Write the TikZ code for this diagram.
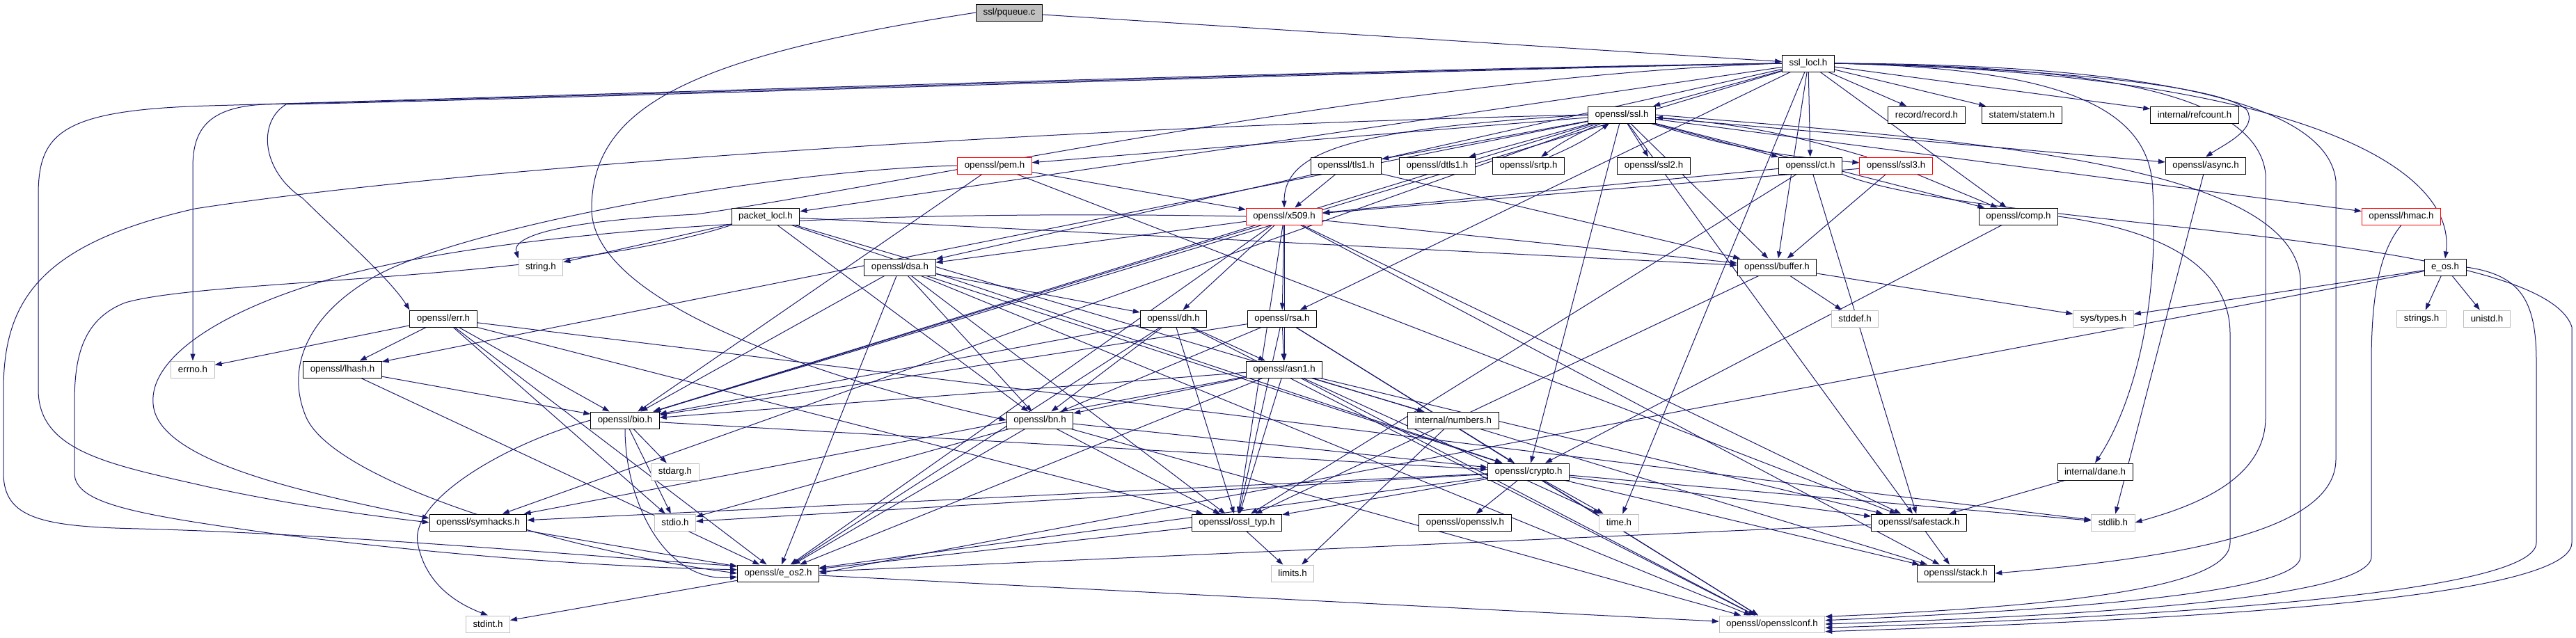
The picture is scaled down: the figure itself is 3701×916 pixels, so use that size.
\documentclass[tikz,border=0pt]{standalone}
\usepackage{fontspec}
\setmainfont{Liberation Sans}
\usetikzlibrary{arrows.meta,backgrounds}
\definecolor{incEdge}{HTML}{191970}
\definecolor{incGray}{HTML}{BFBFBF}
\definecolor{incRed}{HTML}{FF0000}
\tikzset{
  inc-box/.style={
    draw=black, line width=1pt, fill=white, rectangle,
    font=\fontsize{13.3}{16}\selectfont, text=black,
    inner xsep=10pt, inner ysep=0pt, minimum height=24pt
  },
  inc-sys/.style={inc-box, draw=incGray},
  inc-red/.style={inc-box, draw=incRed},
  inc-root/.style={inc-box, fill=incGray},
  inc-edge/.style={-{Triangle[length=10pt,width=7pt]}, line width=1pt,
    draw=incEdge}
}

\begin{document}
\begin{tikzpicture}[x=1pt, y=-1pt, every edge/.append style={inc-edge}]
\useasboundingbox (0,0) rectangle (3701,916);

% rows of headers, top to bottom
\node[inc-root] (pqueue) at (1450,18) {ssl/pqueue.c};
\node[inc-box] (ssllocl) at (2598,91) {ssl\_locl.h};

\node[inc-box] (ssl) at (2330,165) {openssl/ssl.h};
\node[inc-box] (record) at (2768,165) {record/record.h};
\node[inc-box] (statem) at (2905,165) {statem/statem.h};
\node[inc-box] (refcount) at (3153,165) {internal/refcount.h};

\node[inc-red] (pem) at (1429,238) {openssl/pem.h};
\node[inc-box] (tls1) at (1934,238) {openssl/tls1.h};
\node[inc-box] (dtls1) at (2065,238) {openssl/dtls1.h};
\node[inc-box] (srtp) at (2196,238) {openssl/srtp.h};
\node[inc-box] (ssl2) at (2376,238) {openssl/ssl2.h};
\node[inc-box] (ct) at (2601,238) {openssl/ct.h};
\node[inc-red] (ssl3) at (2724,238) {openssl/ssl3.h};
\node[inc-box] (async) at (3169,238) {openssl/async.h};

\node[inc-box] (packet) at (1100,311) {packet\_locl.h};
\node[inc-red] (x509) at (1845,311) {openssl/x509.h};
\node[inc-box] (comp) at (2900,311) {openssl/comp.h};
\node[inc-red] (hmac) at (3450,311) {openssl/hmac.h};

\node[inc-sys] (string) at (777,384) {string.h};
\node[inc-box] (dsa) at (1293,384) {openssl/dsa.h};
\node[inc-box] (buffer) at (2553,384) {openssl/buffer.h};
\node[inc-box] (eos) at (3513,384) {e\_os.h};

\node[inc-box] (err) at (637,458) {openssl/err.h};
\node[inc-box] (dh) at (1686,458) {openssl/dh.h};
\node[inc-box] (rsa) at (1842,458) {openssl/rsa.h};
\node[inc-sys] (stddef) at (2665,458) {stddef.h};
\node[inc-sys] (systypes) at (3022,458) {sys/types.h};
\node[inc-sys] (strings) at (3479,458) {strings.h};
\node[inc-sys] (unistd) at (3573,458) {unistd.h};

\node[inc-sys] (errno) at (277,531) {errno.h};
\node[inc-box] (lhash) at (492,531) {openssl/lhash.h};
\node[inc-box] (asn1) at (1845,531) {openssl/asn1.h};

\node[inc-box] (bio) at (898,604) {openssl/bio.h};
\node[inc-box] (bn) at (1494,604) {openssl/bn.h};
\node[inc-box] (numbers) at (2088,604) {internal/numbers.h};

\node[inc-sys] (stdarg) at (970,678) {stdarg.h};
\node[inc-box] (crypto) at (2196,678) {openssl/crypto.h};
\node[inc-box] (dane) at (3010,678) {internal/dane.h};

\node[inc-box] (symhacks) at (687,751) {openssl/symhacks.h};
\node[inc-sys] (stdio) at (970,751) {stdio.h};
\node[inc-box] (ossltyp) at (1777,751) {openssl/ossl\_typ.h};
\node[inc-box] (opensslv) at (2105,751) {openssl/opensslv.h};
\node[inc-sys] (time) at (2326,751) {time.h};
\node[inc-box] (safestack) at (2757,751) {openssl/safestack.h};
\node[inc-sys] (stdlib) at (3036,751) {stdlib.h};

\node[inc-box] (eos2) at (1118,824) {openssl/e\_os2.h};
\node[inc-sys] (limits) at (1857,824) {limits.h};
\node[inc-box] (stack) at (2810,824) {openssl/stack.h};

\node[inc-sys] (stdint) at (701,897) {stdint.h};
\node[inc-sys] (opensslconf) at (2546,897) {openssl/opensslconf.h};

\begin{scope}[on background layer]
% straight includes
\path (pqueue) edge (ssllocl);
\path (ssllocl) edge (time) edge (buffer) edge (comp) edge (bio) edge (rsa)
  edge (dsa) edge (ssl) edge (ct) edge (record) edge (statem) edge (packet)
  edge (refcount);
\path (ssl) edge (comp) edge (bio) edge (crypto) edge (lhash) edge (buffer)
  edge (pem) edge (hmac) edge (async) edge (safestack) edge (symhacks)
  edge (ct) edge (ssl2) edge (tls1) edge (dtls1) edge[bend right=6] (srtp)
  edge[bend right=6] (ssl3);
\path (ssl3) edge (comp) edge (buffer) edge (x509) edge[bend right=6] (ssl);
\path (srtp) edge[bend right=6] (ssl);
\path (tls1) edge (buffer) edge (x509);
\path (ct) edge (ossltyp) edge (safestack) edge (x509);
\path (comp) edge (crypto);
\path (async) edge (stdlib);
\path (pem) edge (bio) edge (safestack) edge (x509);
\path (packet) edge (string) edge (bn) edge (buffer) edge (crypto)
  edge (numbers);
\path (x509) edge (eos2) edge (ossltyp) edge (buffer) edge (bio) edge (stack)
  edge (asn1) edge (safestack) edge (rsa) edge (dsa) edge (dh);
\path (dsa) edge (opensslconf) edge (eos2) edge (bio) edge (crypto)
  edge (ossltyp) edge (bn) edge (dh);
\path (buffer) edge (ossltyp) edge (stddef) edge (systypes);
\path (eos) edge (eos2.east) edge (systypes) edge (strings) edge (unistd);
\path (err) edge (eos2) edge (stdio) edge (stdlib) edge (ossltyp) edge (bio)
  edge (lhash) edge (errno);
\path (dh) edge (opensslconf) edge (eos2) edge (bio) edge (asn1)
  edge (ossltyp) edge (bn);
\path (rsa) edge (opensslconf) edge (asn1) edge (bio) edge (crypto)
  edge (ossltyp) edge (bn);
\path (lhash) edge (eos2) edge (bio);
\path (asn1) edge (time) edge (eos2) edge (opensslconf) edge (bio) edge (stack)
  edge (safestack) edge (symhacks) edge (ossltyp) edge (bn);
\path (bio) edge[out=-90, in=185] (eos2.185) edge (stdio) edge (stdarg)
  edge (crypto);
\path (bn) edge (eos2) edge (stdio) edge (ossltyp) edge (opensslconf)
  edge (crypto);
\path (numbers) edge (limits);
\path (crypto) edge (stdlib) edge (time) edge (eos2) edge (stdio) edge (stack)
  edge (safestack) edge (opensslv) edge (ossltyp) edge (opensslconf)
  edge (symhacks);
\path (dane) edge (safestack);
\path (symhacks) edge (eos2);
\path (ossltyp) edge (eos2) edge (limits);
\path (safestack) edge (stack) edge (eos2);
\path (eos2) edge (opensslconf) edge (stdint);

% long detours round the left side
\draw[inc-edge] (pqueue.west) .. controls (1000,80) and (850,150) .. (850,300)
  .. controls (850,450) and (1250,560) .. (bn.west);
\draw[inc-edge] (ssl.west) .. controls (1950,185) and (1845,215) .. (x509.north);
\draw[inc-edge] (ssllocl.west) .. controls (2000,98) and (800,138) .. (300,152)
  .. controls (90,158) and (55,190) .. (55,280) -- (55,560)
  .. controls (55,650) and (160,668) .. (300,700)
  .. controls (430,728) and (540,742) .. (symhacks.west);
\draw[inc-edge] (ssllocl.west) .. controls (2000,100) and (800,140) .. (380,150)
  .. controls (300,154) and (277,185) .. (277,240) -- (errno.north);
\draw[inc-edge] (ssllocl.west) .. controls (2000,102) and (800,142) .. (411,150)
  .. controls (370,175) and (375,245) .. (435,285)
  .. controls (480,330) and (560,400) .. (err.north west);
\draw[inc-edge] (ssllocl.west) .. controls (2000,110) and (1300,265) .. (1000,308)
  .. controls (800,318) and (735,340) .. (string.north west);
\draw[inc-edge] (ssl.west) .. controls (1600,180) and (700,235) .. (280,300)
  .. controls (60,350) and (5,430) .. (5,560) -- (5,680)
  .. controls (5,745) and (60,757) .. (200,760)
  .. controls (500,768) and (850,800) .. (eos2.170);
\draw[inc-edge] (packet.south west) .. controls (800,405) and (300,400) .. (180,435)
  .. controls (115,460) and (107,520) .. (107,580) -- (107,680)
  .. controls (107,725) and (200,740) .. (400,768)
  .. controls (700,805) and (900,815) .. (eos2.175);
\draw[inc-edge] (x509.west) .. controls (1200,300) and (700,330) .. (455,407)
  .. controls (300,455) and (215,520) .. (220,580)
  .. controls (225,660) and (420,705) .. (symhacks.175);
\draw[inc-edge] (pem.west) .. controls (1100,245) and (650,330) .. (534,400)
  .. controls (440,455) and (410,530) .. (440,600)
  .. controls (480,690) and (800,790) .. (eos2.west);
\draw[inc-edge] (bio.west) .. controls (720,640) and (590,720) .. (600,780)
  .. controls (610,835) and (650,865) .. (stdint.north);

% long detours round the right side
\draw[inc-edge] (ssllocl.east) .. controls (3000,100) and (3200,128) .. (3228,158)
  .. controls (3245,185) and (3195,208) .. (async.north);
\draw[inc-edge] (ssllocl.east) .. controls (3300,105) and (3530,240) .. (eos.north);
\draw[inc-edge] (ssllocl.east) .. controls (2950,98) and (3080,150) .. (3092,260)
  .. controls (3105,450) and (3060,590) .. (dane.north);
\draw[inc-edge] (ssllocl.east) .. controls (2900,95) and (3240,110) .. (3255,250)
  -- (3255,600) .. controls (3255,690) and (3150,728) .. (stdlib.east);
\draw[inc-edge] (ssllocl.east) .. controls (2900,92) and (3340,110) .. (3356,260)
  -- (3356,660) .. controls (3356,760) and (3150,800) .. (stack.east);
\draw[inc-edge] (comp.east) .. controls (3100,330) and (3204,380) .. (3204,480)
  -- (3204,780) .. controls (3204,840) and (3000,870) .. (opensslconf.8);
\draw[inc-edge] (ssl.east) .. controls (2800,200) and (3290,230) .. (3305,400)
  -- (3305,800) .. controls (3305,850) and (3000,875) .. (opensslconf.4);
\draw[inc-edge] (hmac.south) .. controls (3420,360) and (3407,420) .. (3407,520)
  -- (3407,800) .. controls (3407,860) and (3000,885) .. (opensslconf.east);
\draw[inc-edge] (eos.east) .. controls (3620,395) and (3644,430) .. (3644,520)
  -- (3644,780) .. controls (3644,860) and (3000,890) .. (opensslconf.-4);
\draw[inc-edge] (ct.south east) .. controls (2850,330) and (3650,330) .. (3695,470)
  -- (3695,780) .. controls (3695,870) and (3000,895) .. (opensslconf.-8);
\end{scope}
\end{tikzpicture}
\end{document}
